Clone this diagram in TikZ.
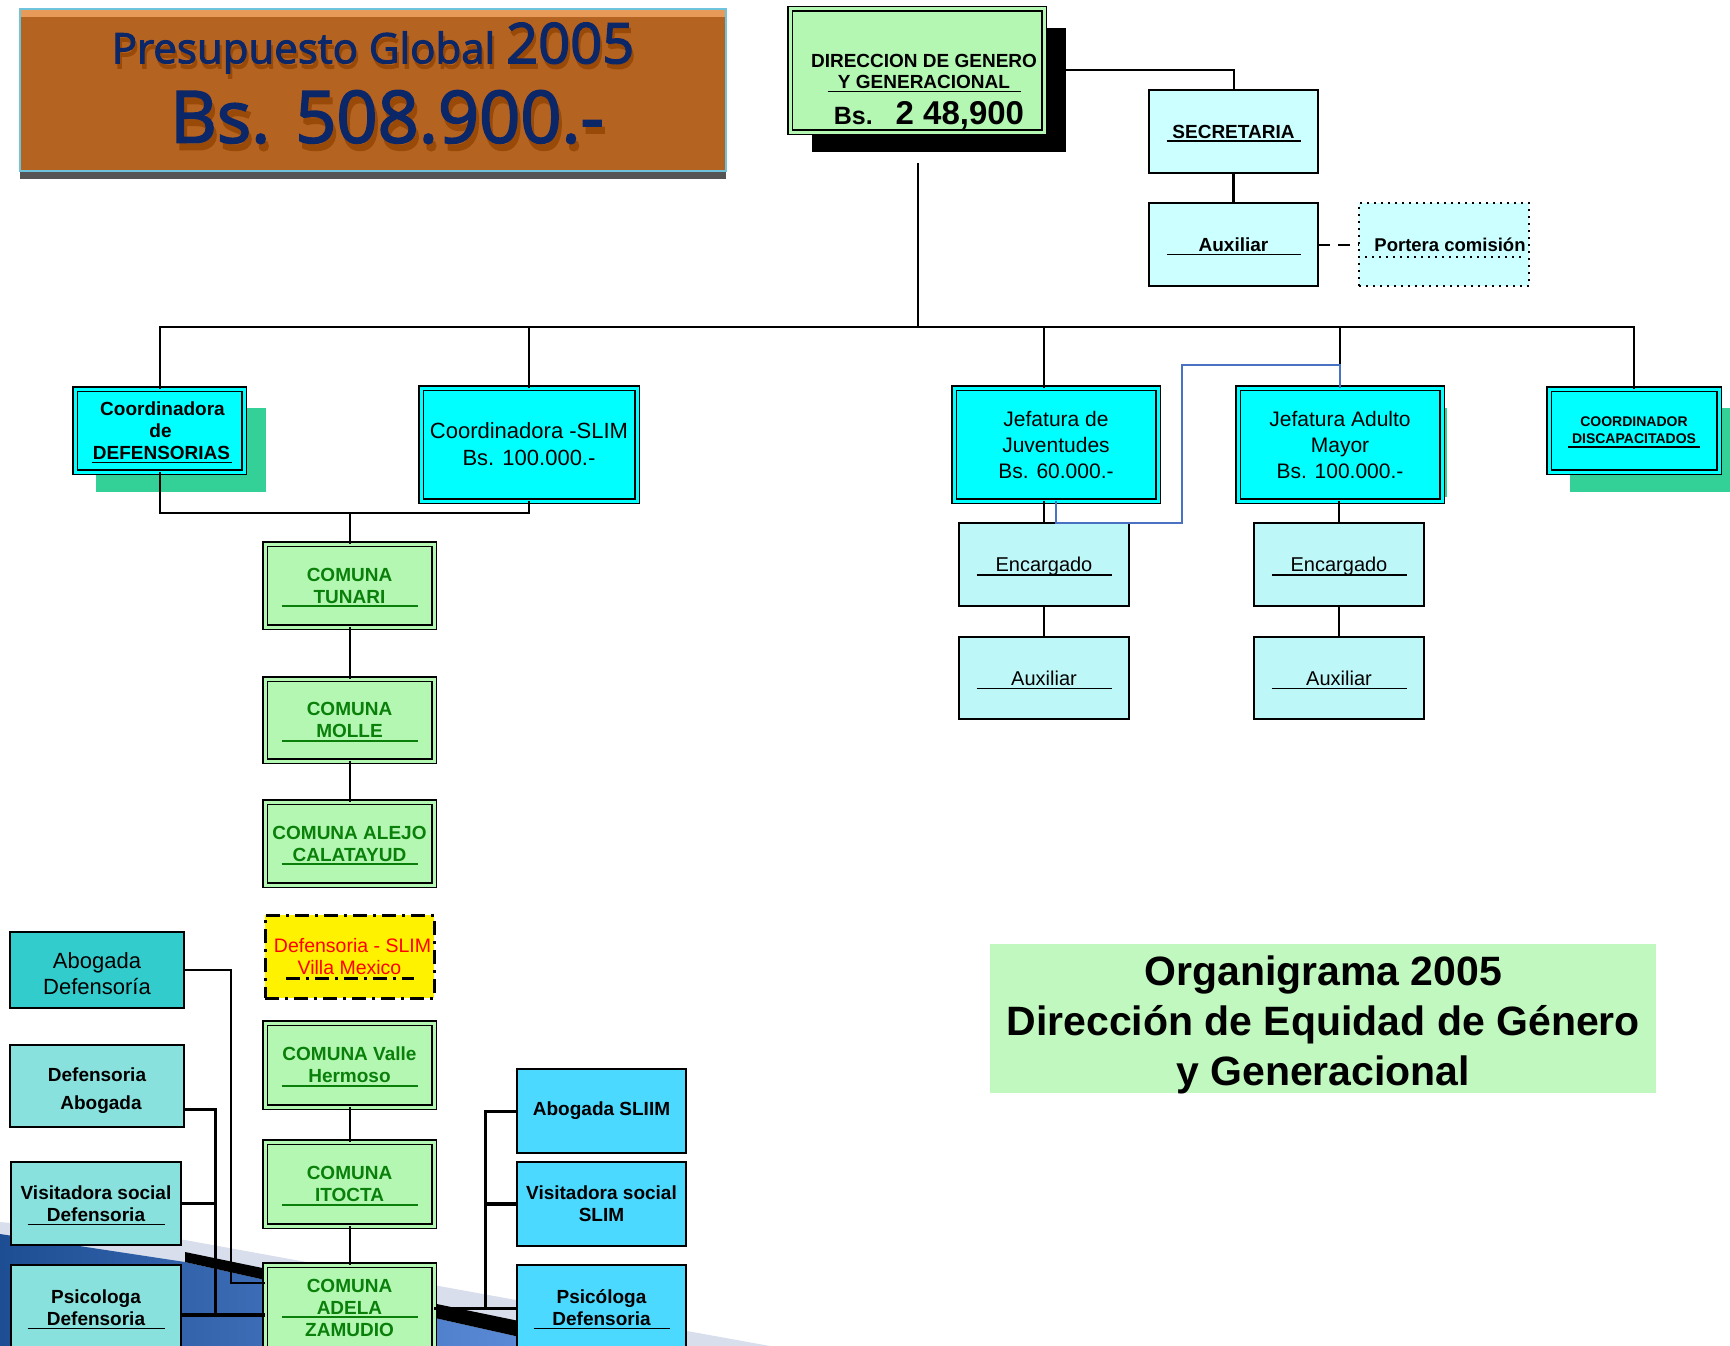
\documentclass[tikz,border=0pt]{standalone}
\usepackage{fontspec}
\setmainfont{Liberation Sans}
\newfontfamily\bannerfont[FakeBold=2.5]{Open Sans}
\usetikzlibrary{calc}
\definecolor{bannerbody}{HTML}{B56321}
\definecolor{bannerstripe}{HTML}{E89B58}
\definecolor{bannerborder}{HTML}{6EC3DD}
\definecolor{bannerbottom}{HTML}{555555}
\definecolor{navy}{HTML}{0C2767}
\definecolor{tshadow}{HTML}{9A4A08}
\definecolor{dirgreen}{HTML}{B3F7B3}
\definecolor{lcyan}{HTML}{CCFFFF}
\definecolor{lcyantwo}{HTML}{BDF7F7}
\definecolor{cyanc}{HTML}{00FFFF}
\definecolor{shgreen}{HTML}{33D197}
\definecolor{comgreen}{HTML}{B3F7B3}
\definecolor{comtext}{HTML}{0A7F0A}
\definecolor{tealone}{HTML}{33CCCC}
\definecolor{tealtwo}{HTML}{88E1DC}
\definecolor{sky}{HTML}{4CD9FF}
\definecolor{orgfill}{HTML}{C0F8C0}
\definecolor{bline}{HTML}{4A72C2}
\definecolor{bgblueone}{HTML}{1D4E93}
\definecolor{bgbluetwo}{HTML}{5F8FDC}
\definecolor{bggray}{HTML}{D8DEEC}
\newcommand{\UL}[2]{\makebox[#1]{#2}\llap{\smash{\rule[-4pt]{#1}{1.6pt}}}}
\newcommand{\nodepth}[1]{\raisebox{0pt}[\height][0pt]{#1}}
\begin{document}
\begin{tikzpicture}[x=1pt,y=-1pt,
  box/.style={draw=black, line width=1.8pt, inner sep=0pt, outer sep=0pt, align=center, anchor=north west, font=\bfseries\fontsize{19}{22}\selectfont},
  dblbox/.style={box, line width=1.4pt, double distance=3pt},
  cyanbox/.style={dblbox, fill=cyanc, double=cyanc},
  comuna/.style={dblbox, fill=comgreen, double=comgreen, text=comtext, minimum width=169pt},
  lightbox/.style={box, fill=lcyan},
  encbox/.style={box, fill=lcyantwo, minimum width=170pt, font=\fontsize{20}{22}\selectfont},
  leftbox/.style={box, fill=tealtwo},
  skybox/.style={box, fill=sky, minimum width=169pt},
  conn/.style={draw=black, line width=2pt},
  bannertext/.style={font=\bannerfont, inner sep=0pt}
]
\useasboundingbox (0,0) rectangle (1730,1346);
\clip (0,0) rectangle (1730,1346);

% slide background, bottom left
\fill[bggray] (0,1222) -- (185,1240) -- (770,1346) -- (0,1346) -- cycle;
\shade[left color=bgblueone, right color=bgbluetwo] (0,1234) -- (185,1262) -- (560,1346) -- (0,1346) -- cycle;
\fill[black] (185,1252) -- (640,1346) -- (560,1346) -- (185,1262) -- cycle;

% banner
\node[anchor=north west, minimum width=706pt, minimum height=162pt, inner sep=0pt, outer sep=0pt, fill=bannerbody] (banner) at (20,9) {};
\fill[bannerbottom] (banner.south west) rectangle ++(706,8);
\fill[bannerstripe] (banner.north west) rectangle ++(706,8);
\draw[bannerborder, line width=1.5pt] (banner.north west) rectangle (banner.south east);
\node[bannertext, text=tshadow] (tonesh) at (375,53) {\fontsize{42}{44}\selectfont Presupuesto Global \fontsize{56}{58}\selectfont 2005};
\node[bannertext, text=navy] (tone) at (373,48) {\fontsize{42}{44}\selectfont Presupuesto Global \fontsize{56}{58}\selectfont 2005};
\node[bannertext, text=tshadow] (ttwosh) at (390,124) {\fontsize{72}{74}\selectfont Bs. 508.900.-};
\node[bannertext, text=navy] (ttwo) at (387,117) {\fontsize{72}{74}\selectfont Bs. 508.900.-};

% shadows
\fill[black] (812,28) rectangle (1066,152);
\fill[shgreen] (96,408) rectangle (266,492);
\fill[shgreen] (1259,408) rectangle (1447,497);
\fill[shgreen] (1570,408) rectangle (1730,492);

% direction
\node[dblbox, fill=dirgreen, double=dirgreen, minimum width=254pt, minimum height=123pt] (dir) at (790,9) {};
\node[font=\bfseries\fontsize{19}{21}\selectfont, align=center, inner sep=0pt] (dirtxt) at (924,92) {DIRECCION DE GENERO\\\UL{193pt}{Y GENERACIONAL}\\[12pt]\hspace{10pt}{\fontsize{25}{28}\selectfont Bs.~~\hspace{9pt}}{\fontsize{33}{36}\selectfont 2 48,900}};

\node[lightbox, minimum width=169pt, minimum height=83pt] (sec) at (1149,90) {\UL{134pt}{SECRETARIA}};
\node[lightbox, minimum width=169pt, minimum height=83pt] (auxz) at (1149,203) {\UL{134pt}{Auxiliar}};
\node[box, fill=lcyan, dash pattern=on 2pt off 5pt, line width=2pt, minimum width=170pt, minimum height=83pt, font=\bfseries\fontsize{18.5}{22}\selectfont] (port) at (1359,203) {\hspace{12pt}Portera comisión};

% second level
\node[cyanbox, minimum width=169pt, minimum height=83pt] (def) at (75,389) {\hspace{6pt}Coordinadora\\\hspace{2pt}de\\\hspace{4pt}\UL{140pt}{DEFENSORIAS}};
\node[cyanbox, minimum width=216pt, minimum height=113pt, font=\fontsize{22}{27}\selectfont] (slim) at (421,388) {Coordinadora -SLIM\\Bs. 100.000.-};
\node[cyanbox, minimum width=204pt, minimum height=113pt, font=\fontsize{21}{26}\selectfont] (juv) at (954,388) {Jefatura de\\Juventudes\\Bs. 60.000.-};
\node[cyanbox, minimum width=204pt, minimum height=113pt, font=\fontsize{21}{26}\selectfont] (adu) at (1238,388) {Jefatura Adulto\\Mayor\\Bs. 100.000.-};
\node[cyanbox, minimum width=170pt, minimum height=83pt, font=\bfseries\fontsize{14}{17}\selectfont] (dis) at (1549,389) {COORDINADOR\\\UL{132pt}{DISCAPACITADOS}};

\node[encbox, minimum height=83pt] (encone) at (959,523) {\UL{135pt}{\nodepth{Encargado}}};
\node[encbox, minimum height=82pt] (auxone) at (959,637) {\UL{135pt}{Auxiliar}};
\node[encbox, minimum height=83pt] (enctwo) at (1254,523) {\UL{135pt}{\nodepth{Encargado}}};
\node[encbox, minimum height=82pt] (auxtwo) at (1254,637) {\UL{135pt}{Auxiliar}};

% comunas
\node[comuna, minimum height=83pt] (tun) at (265,544) {COMUNA\\\UL{136pt}{TUNARI}};
\node[comuna, minimum height=82pt] (mol) at (265,679) {COMUNA\\\UL{136pt}{MOLLE}};
\node[comuna, minimum height=83pt] (ale) at (265,802) {COMUNA ALEJO\\\UL{136pt}{CALATAYUD}};
\node[box, fill=yellow, line width=3pt, dash pattern=on 14pt off 6pt on 3pt off 6pt, minimum width=169pt, minimum height=83pt, text=red, font=\fontsize{19.5}{22}\selectfont] (vm) at (265,915) {\hspace{6pt}Defensoria - SLIM\\Villa Mexico};
\draw[line width=2.5pt, dash pattern=on 14pt off 6pt on 3pt off 6pt] ($(vm.center)+(-64,22)$) -- ++(128,0);
\node[comuna, minimum height=84pt] (val) at (265,1023) {COMUNA Valle\\\UL{136pt}{Hermoso}};
\node[comuna, minimum height=84pt] (ito) at (265,1142) {COMUNA\\\UL{136pt}{ITOCTA}};
\node[comuna, minimum height=85pt] (ade) at (265,1265) {COMUNA\\\UL{136pt}{ADELA}\\ZAMUDIO};

% left column
\node[box, fill=tealone, minimum width=174pt, minimum height=76pt] (abd) at (10,932) {};
\node[align=center, inner sep=0pt, font=\fontsize{22}{26}\selectfont] (abdtxt) at ($(abd.center)+(0,4)$) {Abogada\\Defensoría};
\node[leftbox, minimum width=174pt, minimum height=82pt] (dab) at (10,1045) {};
\node[align=center, inner sep=0pt, font=\bfseries\fontsize{19}{28}\selectfont] (dabtxt) at ($(dab.center)+(0,5)$) {Defensoria\\\hspace{8pt}Abogada};
\node[leftbox, minimum width=170pt, minimum height=83pt] (vsd) at (11,1162) {Visitadora social\\\UL{137pt}{Defensoria}};
\node[leftbox, minimum width=170pt, minimum height=85pt] (psd) at (11,1265) {Psicologa\\\UL{137pt}{Defensoria}};

% right column
\node[skybox, minimum height=84pt] (abs) at (517,1069) {Abogada SLIIM};
\node[skybox, minimum height=84pt] (vss) at (517,1162) {Visitadora social\\SLIM};
\node[skybox, minimum height=85pt] (pss) at (517,1265) {Psicóloga\\\UL{136pt}{Defensoria}};

% title box
\node[anchor=north west, fill=orgfill, minimum width=666pt, minimum height=149pt, inner sep=0pt] (org) at (990,944) {};
\node[align=center, inner sep=0pt, font=\bfseries\fontsize{41}{50}\selectfont] (orgtxt) at ($(org.center)+(0,6)$) {Organigrama 2005\\Dirección de Equidad de Género\\y Generacional};

% connectors
\coordinate (dsr) at (1066,70);
\draw[conn] (dsr) -| (sec.north);
\draw[conn, line width=2.5pt] (sec.south) -- (auxz.north);
\draw[conn, dash pattern=on 12pt off 8pt] (auxz.east) -- (port.west);
\draw[conn, line width=2pt, dash pattern=on 2pt off 5pt] ($(port.center)+(-79,12)$) -- ++(158,0);

\coordinate (dtop) at (918,163);
\coordinate (bus) at (918,327);
\draw[conn, line width=1.6pt] (dtop) -- (bus);
\draw[conn] (def.north) |- (bus) -| (dis.north);
\draw[conn] (slim.north) -- (slim.north |- bus);
\draw[conn] (encone.north |- juv.north) -- (encone.north |- bus);
\draw[conn] (adu.north) -- (adu.north |- bus);

\draw[conn] (encone.north) -- (encone.north |- juv.south);
\draw[conn] (encone.south) -- (auxone.north);
\draw[conn] (enctwo.north) -- (enctwo.north |- adu.south);
\draw[conn] (enctwo.south) -- (auxtwo.north);

\coordinate (bone) at (1182,523);
\coordinate (btwo) at (1182,365);
\draw[bline, line width=1.6pt] (juv.south) |- (bone) -- (btwo) -| (adu.north);

\coordinate (jone) at (349.5,513);
\draw[conn] (def.south) |- (jone);
\draw[conn] (slim.south) |- (jone);
\draw[conn] (jone) -- (tun.north);
\draw[conn] (tun.south) -- (mol.north);
\draw[conn] (mol.south) -- (ale.north);
\draw[conn] (val.south) -- (ito.north);
\draw[conn] (ito.south) -- (ade.north);

\coordinate (lone) at (231,1283);
\draw[conn] (abd.east) -| (lone) -- (lone -| ade.west);
\coordinate (ltwo) at (215,1315);
\draw[conn, line width=3pt] ([yshift=-23pt]dab.east) -| (ltwo);
\draw[conn, line width=3.5pt] (vsd.east) -- (vsd.east -| ltwo);
\draw[conn, line width=4.5pt] (psd.east |- ltwo) -- (ltwo -| ade.west);

\coordinate (rthree) at (485,1308);
\draw[conn, line width=3pt] (abs.west) -| (rthree);
\draw[conn, line width=3.5pt] (vss.west) -- (vss.west -| rthree);
\draw[conn, line width=3pt] (ade.east |- rthree) -- (pss.west |- rthree);
\end{tikzpicture}
\end{document}
